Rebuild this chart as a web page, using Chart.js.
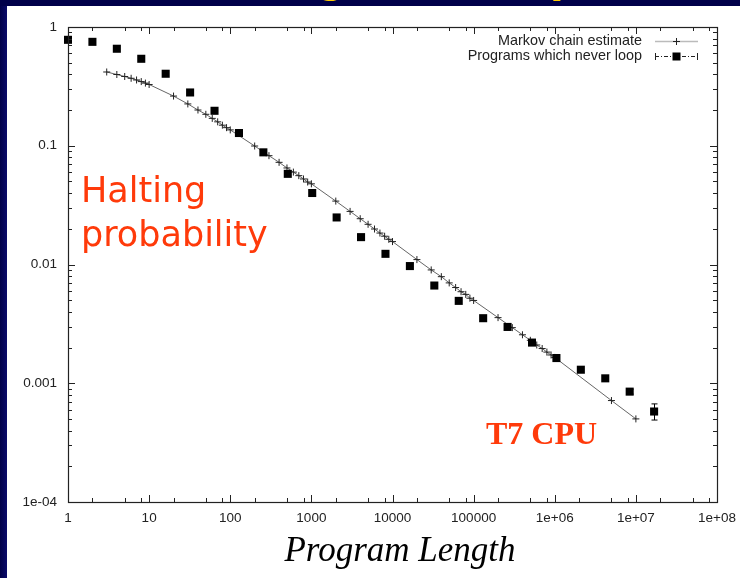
<!DOCTYPE html>
<html>
<head>
<meta charset="utf-8">
<title>Halting probability</title>
<script src="https://cdn.jsdelivr.net/npm/chart.js@4.4.1/dist/chart.umd.min.js"></script>
<style>
  html, body { margin: 0; padding: 0; background: #000050; overflow: hidden; }
  #wrap { position: relative; width: 740px; height: 578px; }
</style>
</head>
<body>
<div id="wrap"><canvas id="chart" width="740" height="578"></canvas></div>
<script>
// Programs which never loop (lengths are powers of two)
const loopLengths = [1, 2, 4, 8, 16, 32, 64, 128, 256, 512, 1024, 2048, 4096, 8192, 16384,
    32768, 65536, 131072, 262144, 524288, 1048576, 2097152, 4194304, 8388608, 16777216];
const loopValues = [0.78, 0.75, 0.656, 0.54, 0.404, 0.281, 0.197, 0.128, 0.088, 0.058, 0.040,
    0.0249, 0.0170, 0.0123, 0.0097, 0.00665, 0.00494, 0.00353, 0.00298, 0.0022, 0.00163,
    0.0013, 0.0011, 0.00085, 0.000578];
// error bars, only visible on the last two points
const loopErrLow = [null, null, null, null, null, null, null, null, null, null, null, null, null,
    null, null, null, null, null, null, null, null, null, null, 0.00081, 0.00049];
const loopErrHigh = [null, null, null, null, null, null, null, null, null, null, null, null, null,
    null, null, null, null, null, null, null, null, null, null, 0.00089, 0.00067];

// Markov chain estimate
const markovLengths = [3, 4, 5, 6, 7, 8, 9, 10,
    20, 30, 40, 50, 60, 70, 80, 90, 100,
    200, 300, 400, 500, 600, 700, 800, 900, 1000,
    2000, 3000, 4000, 5000, 6000, 7000, 8000, 9000, 10000,
    20000, 30000, 40000, 50000, 60000, 70000, 80000, 90000, 100000,
    200000, 300000, 400000, 500000, 600000, 700000, 800000, 900000, 1000000,
    5000000, 10000000];
const markovValues = [0.418, 0.398, 0.383, 0.370, 0.358, 0.347, 0.337, 0.328,
    0.262, 0.225, 0.200, 0.184, 0.170, 0.159, 0.149, 0.142, 0.136,
    0.0995, 0.0825, 0.0725, 0.065, 0.060, 0.056, 0.0525, 0.0495, 0.0478,
    0.0342, 0.0280, 0.0243, 0.0218, 0.0199, 0.0184, 0.0173, 0.0163, 0.0156,
    0.0110, 0.0090, 0.0079, 0.0070, 0.0064, 0.0059, 0.0056, 0.0052, 0.00498,
    0.00357, 0.00294, 0.00256, 0.0023, 0.0021, 0.00196, 0.00183, 0.00173, 0.00165,
    0.000715, 0.000501];

// Axis ticks
const xTicks = [1, 10, 100, 1000, 10000, 100000, 1000000, 10000000, 100000000];
const xTickLabels = ["1", "10", "100", "1000", "10000", "100000", "1e+06", "1e+07", "1e+08"];
const xMinor = [2, 5, 8];
const yTicks = [0.0001, 0.001, 0.01, 0.1, 1];
const yTickLabels = ["1e-04", "0.001", "0.01", "0.1", "1"];
const yMinor = [2, 3, 4, 5, 6, 7, 8, 9];

const ORANGE = "#ff3a0a";
const TICK_FONT = { family: "'Liberation Sans', Arial, sans-serif", size: 13.5 };

// Slide background: navy border on the top and left, white panel
const backgroundPlugin = {
    id: "slideBackground",
    beforeDraw(chart) {
        const ctx = chart.ctx;
        ctx.save();
        ctx.fillStyle = "#00004a";
        ctx.fillRect(0, 0, 740, 578);
        const grad = ctx.createLinearGradient(0, 0, 7, 0);
        grad.addColorStop(0, "#000048");
        grad.addColorStop(1, "#0a0a6a");
        ctx.fillStyle = grad;
        ctx.fillRect(0, 6, 7, 572);
        ctx.fillStyle = "#ffffff";
        ctx.fillRect(7, 6, 733, 572);
        // bottom of the slide title, cut off above the picture
        ctx.beginPath();
        ctx.rect(0, 0, 740, 6);
        ctx.clip();
        ctx.fillStyle = "#ffcc00";
        ctx.font = "bold 40px 'DejaVu Sans', sans-serif";
        ctx.textBaseline = "alphabetic";
        ctx.fillText("g", 318, -8);
        ctx.fillText("p", 550, -8);
        ctx.restore();
    }
};

// gnuplot style frame with inward ticks on all four sides
const framePlugin = {
    id: "frameTicks",
    afterDatasetsDraw(chart) {
        const ctx = chart.ctx;
        const area = chart.chartArea;
        const xs = chart.scales.x;
        const ys = chart.scales.y;
        ctx.save();
        ctx.strokeStyle = "#222";
        ctx.lineWidth = 1;
        ctx.beginPath();
        xTicks.forEach((v, i) => {
            const px = Math.round(xs.getPixelForValue(v)) + 0.5;
            ctx.moveTo(px, area.bottom); ctx.lineTo(px, area.bottom - 7);
            ctx.moveTo(px, area.top); ctx.lineTo(px, area.top + 7);
            if (i < xTicks.length - 1) {
                xMinor.forEach(m => {
                    const mx = Math.round(xs.getPixelForValue(v * m)) + 0.5;
                    ctx.moveTo(mx, area.bottom); ctx.lineTo(mx, area.bottom - 4);
                    ctx.moveTo(mx, area.top); ctx.lineTo(mx, area.top + 4);
                });
            }
        });
        yTicks.forEach((v, i) => {
            const py = Math.round(ys.getPixelForValue(v)) + 0.5;
            ctx.moveTo(area.left, py); ctx.lineTo(area.left + 7, py);
            ctx.moveTo(area.right, py); ctx.lineTo(area.right - 7, py);
            if (i < yTicks.length - 1) {
                yMinor.forEach(m => {
                    const my = Math.round(ys.getPixelForValue(v * m)) + 0.5;
                    ctx.moveTo(area.left, my); ctx.lineTo(area.left + 4, my);
                    ctx.moveTo(area.right, my); ctx.lineTo(area.right - 4, my);
                });
            }
        });
        ctx.stroke();
        ctx.lineWidth = 1.2;
        ctx.strokeRect(Math.round(area.left) + 0.5, Math.round(area.top) + 0.5,
            Math.round(area.right - area.left), Math.round(area.bottom - area.top));
        ctx.restore();
    }
};

// error bars on the never-loop points
const errorBarPlugin = {
    id: "errorBars",
    afterDatasetsDraw(chart) {
        const ctx = chart.ctx;
        const xs = chart.scales.x;
        const ys = chart.scales.y;
        ctx.save();
        ctx.strokeStyle = "#000";
        ctx.lineWidth = 1;
        ctx.beginPath();
        loopLengths.forEach((len, i) => {
            if (loopErrLow[i] === null) return;
            const px = Math.round(xs.getPixelForValue(len)) + 0.5;
            const y1 = ys.getPixelForValue(loopErrLow[i]);
            const y2 = ys.getPixelForValue(loopErrHigh[i]);
            ctx.moveTo(px, y1); ctx.lineTo(px, y2);
            ctx.moveTo(px - 3, y1); ctx.lineTo(px + 3, y1);
            ctx.moveTo(px - 3, y2); ctx.lineTo(px + 3, y2);
        });
        ctx.stroke();
        ctx.restore();
    }
};

// key box in the top right corner and the red notes
const notesPlugin = {
    id: "notes",
    afterDraw(chart) {
        const ctx = chart.ctx;
        ctx.save();
        // key
        ctx.fillStyle = "#222";
        ctx.font = "14.4px 'Liberation Sans', Arial, sans-serif";
        ctx.textAlign = "right";
        ctx.textBaseline = "middle";
        ctx.fillText("Markov chain estimate", 642, 41);
        ctx.fillText("Programs which never loop", 642, 56);

        ctx.strokeStyle = "#bbb";
        ctx.lineWidth = 1.5;
        ctx.beginPath();
        ctx.moveTo(655, 41.5); ctx.lineTo(698, 41.5);
        ctx.stroke();
        ctx.strokeStyle = "#222";
        ctx.lineWidth = 1;
        ctx.beginPath();
        ctx.moveTo(673, 41.5); ctx.lineTo(680, 41.5);
        ctx.moveTo(676.5, 38); ctx.lineTo(676.5, 45);
        ctx.stroke();

        ctx.setLineDash([4, 2, 1, 2]);
        ctx.beginPath();
        ctx.moveTo(655, 56.5); ctx.lineTo(698, 56.5);
        ctx.stroke();
        ctx.setLineDash([]);
        ctx.beginPath();
        ctx.moveTo(655.5, 53); ctx.lineTo(655.5, 60);
        ctx.moveTo(697.5, 53); ctx.lineTo(697.5, 60);
        ctx.stroke();
        ctx.fillStyle = "#000";
        ctx.fillRect(672.5, 52.5, 8, 8);

        // red notes
        ctx.textAlign = "left";
        ctx.textBaseline = "alphabetic";
        ctx.fillStyle = ORANGE;
        ctx.font = "35px 'DejaVu Sans', sans-serif";
        ctx.fillText("Halting", 81, 202);
        ctx.fillText("probability", 81, 246);
        ctx.font = "bold 32px 'Liberation Serif', 'Times New Roman', serif";
        ctx.fillText("T7 CPU", 486, 444);

        // axis title
        ctx.fillStyle = "#000";
        ctx.textAlign = "center";
        ctx.font = "italic 35px 'Liberation Serif', 'Times New Roman', serif";
        ctx.fillText("Program Length", 400, 561);
        ctx.restore();
    }
};

const ctx = document.getElementById("chart").getContext("2d");
new Chart(ctx, {
    type: "scatter",
    data: {
        datasets: [
            {
                label: "Programs which never loop",
                data: loopLengths.map((x, i) => ({ x: x, y: loopValues[i] })),
                pointStyle: "rect",
                pointRadius: 5.7,
                pointHoverRadius: 5.7,
                backgroundColor: "#000",
                borderColor: "#000",
                borderWidth: 0,
                showLine: false,
                clip: false,
            },
            {
                label: "Markov chain estimate",
                data: markovLengths.map((x, i) => ({ x: x, y: markovValues[i] })),
                showLine: true,
                borderColor: "#666",
                borderWidth: 1,
                tension: 0,
                pointStyle: "cross",
                pointRadius: 3.5,
                pointHoverRadius: 3.5,
                pointBorderColor: "#222",
                pointBorderWidth: 1,
                backgroundColor: "#222",
            },
        ],
    },
    options: {
        responsive: false,
        animation: false,
        devicePixelRatio: 1,
        layout: { padding: { top: 27, right: 23, bottom: 0, left: 0 } },
        plugins: {
            legend: { display: false },
            tooltip: { enabled: false },
        },
        scales: {
            x: {
                type: "logarithmic",
                min: 1,
                max: 100000000,
                grid: { display: false, drawTicks: false },
                border: { display: false },
                afterBuildTicks: (scale) => { scale.ticks = xTicks.map(v => ({ value: v })); },
                afterFit: (scale) => {
                    scale.height = 76;
                    scale.paddingLeft = 0;
                    scale.paddingRight = 0;
                },
                ticks: {
                    autoSkip: false,
                    maxRotation: 0,
                    padding: 8,
                    color: "#222",
                    font: TICK_FONT,
                    callback: (value, index) => xTickLabels[index],
                },
            },
            y: {
                type: "logarithmic",
                min: 0.0001,
                max: 1,
                grid: { display: false, drawTicks: false },
                border: { display: false },
                afterBuildTicks: (scale) => { scale.ticks = yTicks.map(v => ({ value: v })); },
                afterFit: (scale) => {
                    scale.width = 68;
                    scale.paddingTop = 0;
                    scale.paddingBottom = 0;
                },
                ticks: {
                    autoSkip: false,
                    padding: 11,
                    color: "#222",
                    font: TICK_FONT,
                    callback: (value, index) => yTickLabels[index],
                },
            },
        },
    },
    plugins: [backgroundPlugin, errorBarPlugin, framePlugin, notesPlugin],
});
</script>
</body>
</html>
